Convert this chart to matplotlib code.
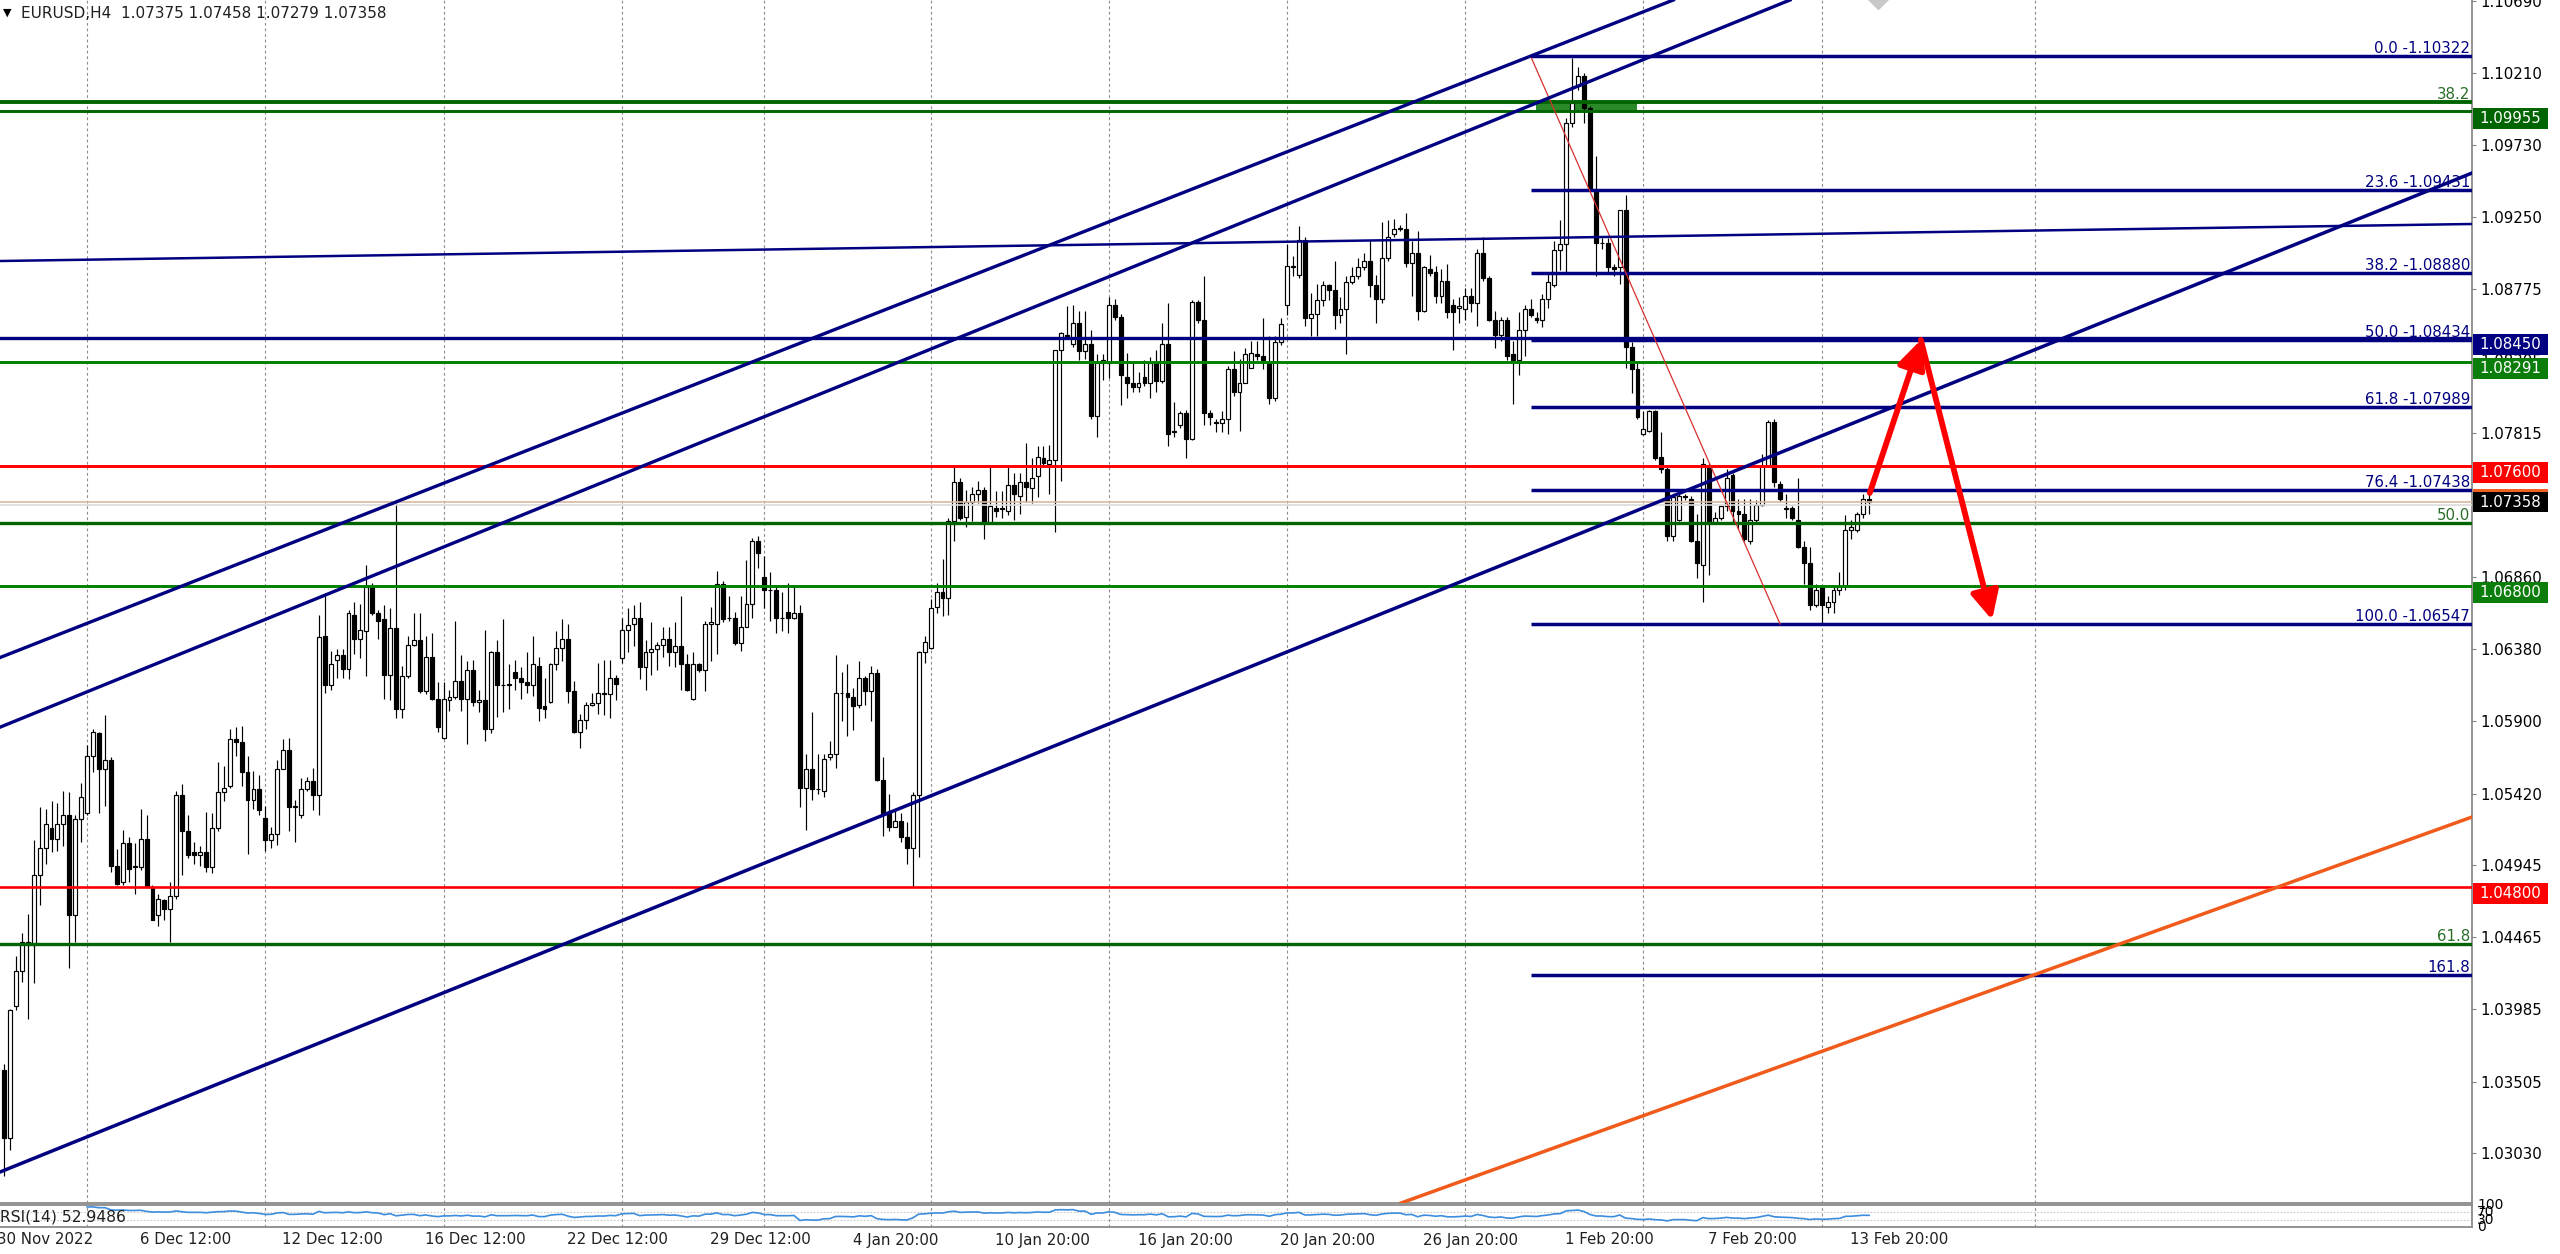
import numpy as np
import pandas as pd
import matplotlib
matplotlib.use('Agg')
import matplotlib.pyplot as plt
from matplotlib.patches import Rectangle, FancyArrowPatch
from matplotlib.transforms import blended_transform_factory

plt.rcParams['font.family'] = ['DejaVu Sans']

# EURUSD H4 bars
opens = [
    1.0358, 1.0313, 1.0401, 1.0424, 1.0443, 1.0441, 1.0488, 1.0506, 1.0519, 1.0512,
    1.0522, 1.0528, 1.0461, 1.0525, 1.0529, 1.0567, 1.0582, 1.0558, 1.0564, 1.0494,
    1.0483, 1.0509, 1.0493, 1.0493, 1.0512, 1.0480, 1.0461, 1.0471, 1.0465, 1.0474,
    1.0541, 1.0517, 1.0503, 1.0501, 1.0503, 1.0493, 1.0519, 1.0543, 1.0547, 1.0578,
    1.0576, 1.0556, 1.0538, 1.0545, 1.0526, 1.0511, 1.0515, 1.0558, 1.0571, 1.0533,
    1.0528, 1.0545, 1.0550, 1.0541, 1.0647, 1.0614, 1.0631, 1.0634, 1.0625, 1.0661,
    1.0645, 1.0650, 1.0680, 1.0662, 1.0658, 1.0621, 1.0652, 1.0598, 1.0620, 1.0641,
    1.0644, 1.0610, 1.0633, 1.0605, 1.0579, 1.0604, 1.0606, 1.0617, 1.0605, 1.0624,
    1.0603, 1.0604, 1.0585, 1.0636, 1.0614, 1.0614, 1.0623, 1.0619, 1.0616, 1.0614,
    1.0627, 1.0600, 1.0603, 1.0628, 1.0639, 1.0645, 1.0610, 1.0583, 1.0591, 1.0601,
    1.0602, 1.0609, 1.0608, 1.0619, 1.0632, 1.0651, 1.0655, 1.0659, 1.0626, 1.0636,
    1.0638, 1.0641, 1.0645, 1.0636, 1.0640, 1.0628, 1.0605, 1.0628, 1.0624, 1.0655,
    1.0655, 1.0681, 1.0659, 1.0659, 1.0642, 1.0653, 1.0668, 1.0710, 1.0686, 1.0677,
    1.0677, 1.0659, 1.0663, 1.0659, 1.0662, 1.0546, 1.0558, 1.0545, 1.0544, 1.0566,
    1.0568, 1.0609, 1.0609, 1.0606, 1.0601, 1.0619, 1.0610, 1.0622, 1.0551, 1.0529,
    1.0520, 1.0524, 1.0513, 1.0506, 1.0541, 1.0636, 1.0639, 1.0666, 1.0676, 1.0672,
    1.0723, 1.0749, 1.0726, 1.0736, 1.0741, 1.0744, 1.0722, 1.0732, 1.0732, 1.0730,
    1.0747, 1.0740, 1.0749, 1.0745, 1.0753, 1.0765, 1.0761, 1.0764, 1.0837, 1.0847,
    1.0841, 1.0855, 1.0836, 1.0841, 1.0793, 1.0828, 1.0828, 1.0867, 1.0859, 1.0819,
    1.0815, 1.0812, 1.0819, 1.0815, 1.0828, 1.0816, 1.0841, 1.0782, 1.0787, 1.0795,
    1.0778, 1.0869, 1.0857, 1.0795, 1.0789, 1.0788, 1.0791, 1.0824, 1.0809, 1.0815,
    1.0825, 1.0834, 1.0833, 1.0829, 1.0805, 1.0842, 1.0867, 1.0893, 1.0887, 1.0910,
    1.0858, 1.0861, 1.0870, 1.0880, 1.0877, 1.0860, 1.0864, 1.0882, 1.0886, 1.0892,
    1.0896, 1.0880, 1.0871, 1.0898, 1.0914, 1.0917, 1.0917, 1.0895, 1.0901, 1.0863,
    1.0891, 1.0889, 1.0873, 1.0883, 1.0867, 1.0865, 1.0864, 1.0873, 1.0868, 1.0901,
    1.0885, 1.0857, 1.0847, 1.0857, 1.0834, 1.0830, 1.0850, 1.0864, 1.0858, 1.0857,
    1.0871, 1.0880, 1.0903, 1.0907, 1.0988, 1.1012, 1.1019, 1.0998, 1.0943, 1.0908,
    1.0908, 1.0892, 1.0892, 1.0930, 1.0839, 1.0824, 1.0781, 1.0783, 1.0796, 1.0766,
    1.0758, 1.0713, 1.0724, 1.0740, 1.0738, 1.0710, 1.0694, 1.0759, 1.0722, 1.0725,
    1.0733, 1.0754, 1.0730, 1.0728, 1.0710, 1.0724, 1.0734, 1.0760, 1.0789, 1.0748,
    1.0731, 1.0732, 1.0724, 1.0706, 1.0695, 1.0667, 1.0679, 1.0666, 1.0669, 1.0677,
    1.0680, 1.0717, 1.0717, 1.0728, 1.07375,
]
highs = [
    1.0362, 1.0399, 1.0434, 1.0449, 1.0462, 1.0511, 1.0533, 1.0532, 1.0537, 1.0536,
    1.0544, 1.0543, 1.0528, 1.0549, 1.0574, 1.0585, 1.0583, 1.0594, 1.0566, 1.0505,
    1.0518, 1.0513, 1.0509, 1.0532, 1.0528, 1.0481, 1.0475, 1.0472, 1.0483, 1.0544,
    1.0548, 1.0528, 1.0510, 1.0507, 1.0530, 1.0529, 1.0563, 1.0560, 1.0585, 1.0586,
    1.0587, 1.0567, 1.0557, 1.0554, 1.0534, 1.0520, 1.0564, 1.0578, 1.0579, 1.0538,
    1.0552, 1.0553, 1.0559, 1.0661, 1.0673, 1.0637, 1.0638, 1.0638, 1.0664, 1.0669,
    1.0668, 1.0694, 1.0682, 1.0664, 1.0667, 1.0665, 1.0735, 1.0627, 1.0647, 1.0662,
    1.0662, 1.0647, 1.0649, 1.0616, 1.0616, 1.0611, 1.0657, 1.0634, 1.0630, 1.0631,
    1.0611, 1.0651, 1.0637, 1.0644, 1.0658, 1.0628, 1.0631, 1.0626, 1.0636, 1.0647,
    1.0633, 1.0619, 1.0629, 1.0650, 1.0658, 1.0655, 1.0617, 1.0595, 1.0603, 1.0609,
    1.0629, 1.0631, 1.0631, 1.0621, 1.0659, 1.0665, 1.0667, 1.0669, 1.0644, 1.0656,
    1.0643, 1.0653, 1.0653, 1.0656, 1.0673, 1.0635, 1.0636, 1.0629, 1.0657, 1.0666,
    1.0690, 1.0683, 1.0673, 1.0663, 1.0673, 1.0697, 1.0712, 1.0713, 1.0700, 1.0689,
    1.0680, 1.0676, 1.0682, 1.0680, 1.0667, 1.0568, 1.0596, 1.0568, 1.0568, 1.0577,
    1.0634, 1.0623, 1.0628, 1.0612, 1.0630, 1.0620, 1.0627, 1.0625, 1.0566, 1.0542,
    1.0531, 1.0529, 1.0523, 1.0543, 1.0637, 1.0647, 1.0671, 1.0682, 1.0698, 1.0725,
    1.0759, 1.0752, 1.0744, 1.0746, 1.0750, 1.0746, 1.0759, 1.0743, 1.0743, 1.0760,
    1.0755, 1.0755, 1.0775, 1.0765, 1.0773, 1.0773, 1.0774, 1.0837, 1.0849, 1.0866,
    1.0867, 1.0863, 1.0863, 1.0850, 1.0834, 1.0834, 1.0872, 1.0871, 1.0861, 1.0835,
    1.0828, 1.0822, 1.0830, 1.0832, 1.0837, 1.0855, 1.0868, 1.0802, 1.0796, 1.0797,
    1.0870, 1.0870, 1.0886, 1.0797, 1.0791, 1.0796, 1.0826, 1.0836, 1.0831, 1.0838,
    1.0843, 1.0843, 1.0858, 1.0846, 1.0846, 1.0858, 1.0907, 1.0899, 1.0919, 1.0912,
    1.0875, 1.0881, 1.0883, 1.0881, 1.0896, 1.0872, 1.0886, 1.0892, 1.0898, 1.0901,
    1.0910, 1.0887, 1.0922, 1.0923, 1.0924, 1.0920, 1.0928, 1.0909, 1.0916, 1.0893,
    1.0900, 1.0893, 1.0891, 1.0894, 1.0871, 1.0872, 1.0878, 1.0878, 1.0904, 1.0912,
    1.0886, 1.0863, 1.0859, 1.0859, 1.0843, 1.0862, 1.0867, 1.0871, 1.0862, 1.0874,
    1.0888, 1.0909, 1.0923, 1.0991, 1.1031, 1.1025, 1.1021, 1.0999, 1.0966, 1.0911,
    1.0911, 1.0894, 1.0930, 1.0940, 1.0842, 1.0829, 1.0796, 1.0797, 1.0797, 1.0782,
    1.0759, 1.0740, 1.0741, 1.0741, 1.0740, 1.0728, 1.0765, 1.0762, 1.0729, 1.0734,
    1.0758, 1.0755, 1.0738, 1.0738, 1.0738, 1.0737, 1.0768, 1.0790, 1.0791, 1.0750,
    1.0741, 1.0733, 1.0752, 1.0710, 1.0706, 1.0681, 1.0680, 1.0673, 1.0680, 1.0689,
    1.0727, 1.0724, 1.0729, 1.0741, 1.07458,
]
lows = [
    1.0288, 1.0305, 1.0398, 1.0417, 1.0392, 1.0416, 1.0468, 1.0495, 1.0503, 1.0504,
    1.0507, 1.0426, 1.0443, 1.0510, 1.0528, 1.0556, 1.0529, 1.0534, 1.0490, 1.0481,
    1.0481, 1.0483, 1.0475, 1.0491, 1.0480, 1.0458, 1.0454, 1.0458, 1.0443, 1.0472,
    1.0488, 1.0499, 1.0495, 1.0494, 1.0490, 1.0489, 1.0517, 1.0537, 1.0546, 1.0567,
    1.0547, 1.0502, 1.0532, 1.0528, 1.0504, 1.0506, 1.0508, 1.0558, 1.0517, 1.0510,
    1.0526, 1.0544, 1.0531, 1.0528, 1.0609, 1.0611, 1.0619, 1.0619, 1.0618, 1.0635,
    1.0632, 1.0620, 1.0661, 1.0645, 1.0605, 1.0604, 1.0592, 1.0592, 1.0619, 1.0640,
    1.0609, 1.0608, 1.0604, 1.0583, 1.0578, 1.0597, 1.0605, 1.0597, 1.0575, 1.0600,
    1.0596, 1.0577, 1.0582, 1.0593, 1.0596, 1.0598, 1.0611, 1.0605, 1.0609, 1.0607,
    1.0590, 1.0592, 1.0602, 1.0624, 1.0630, 1.0602, 1.0582, 1.0572, 1.0585, 1.0600,
    1.0595, 1.0594, 1.0592, 1.0604, 1.0629, 1.0636, 1.0640, 1.0618, 1.0611, 1.0621,
    1.0624, 1.0633, 1.0627, 1.0626, 1.0611, 1.0610, 1.0604, 1.0623, 1.0610, 1.0630,
    1.0635, 1.0656, 1.0657, 1.0641, 1.0637, 1.0653, 1.0659, 1.0692, 1.0665, 1.0657,
    1.0649, 1.0650, 1.0649, 1.0658, 1.0533, 1.0518, 1.0538, 1.0542, 1.0540, 1.0564,
    1.0559, 1.0590, 1.0580, 1.0584, 1.0599, 1.0601, 1.0590, 1.0550, 1.0514, 1.0517,
    1.0520, 1.0510, 1.0495, 1.0480, 1.0500, 1.0629, 1.0638, 1.0662, 1.0660, 1.0661,
    1.0710, 1.0724, 1.0719, 1.0723, 1.0735, 1.0711, 1.0722, 1.0726, 1.0725, 1.0727,
    1.0724, 1.0728, 1.0736, 1.0735, 1.0739, 1.0760, 1.0741, 1.0716, 1.0750, 1.0845,
    1.0839, 1.0830, 1.0831, 1.0791, 1.0779, 1.0817, 1.0818, 1.0857, 1.0800, 1.0805,
    1.0809, 1.0809, 1.0813, 1.0805, 1.0809, 1.0815, 1.0773, 1.0779, 1.0785, 1.0765,
    1.0777, 1.0855, 1.0787, 1.0787, 1.0782, 1.0782, 1.0781, 1.0806, 1.0783, 1.0815,
    1.0825, 1.0830, 1.0824, 1.0801, 1.0803, 1.0840, 1.0860, 1.0886, 1.0885, 1.0853,
    1.0846, 1.0846, 1.0866, 1.0870, 1.0851, 1.0855, 1.0834, 1.0881, 1.0884, 1.0890,
    1.0872, 1.0855, 1.0868, 1.0896, 1.0912, 1.0916, 1.0892, 1.0873, 1.0857, 1.0862,
    1.0886, 1.0868, 1.0868, 1.0858, 1.0837, 1.0855, 1.0857, 1.0862, 1.0853, 1.0883,
    1.0856, 1.0838, 1.0843, 1.0830, 1.0801, 1.0820, 1.0833, 1.0859, 1.0855, 1.0852,
    1.0865, 1.0879, 1.0890, 1.0888, 1.0985, 1.1010, 1.0988, 1.0943, 1.0886, 1.0904,
    1.0889, 1.0886, 1.0881, 1.0825, 1.0808, 1.0791, 1.0780, 1.0782, 1.0764, 1.0755,
    1.0710, 1.0710, 1.0723, 1.0737, 1.0709, 1.0685, 1.0669, 1.0687, 1.0721, 1.0724,
    1.0730, 1.0722, 1.0718, 1.0710, 1.0708, 1.0722, 1.0733, 1.0759, 1.0746, 1.0736,
    1.0725, 1.0724, 1.0705, 1.0681, 1.0664, 1.0666, 1.0655, 1.0662, 1.0662, 1.0674,
    1.0677, 1.0711, 1.0716, 1.0725, 1.07279,
]
closes = [
    1.0313, 1.0398, 1.0424, 1.0443, 1.0441, 1.0488, 1.0506, 1.0522, 1.0512, 1.0522,
    1.0528, 1.0461, 1.0525, 1.0540, 1.0567, 1.0583, 1.0558, 1.0564, 1.0494, 1.0482,
    1.0509, 1.0492, 1.0494, 1.0512, 1.0480, 1.0458, 1.0472, 1.0465, 1.0474, 1.0541,
    1.0517, 1.0501, 1.0501, 1.0503, 1.0493, 1.0519, 1.0543, 1.0546, 1.0578, 1.0576,
    1.0556, 1.0538, 1.0545, 1.0531, 1.0511, 1.0515, 1.0558, 1.0571, 1.0533, 1.0534,
    1.0545, 1.0550, 1.0541, 1.0646, 1.0614, 1.0628, 1.0634, 1.0625, 1.0662, 1.0645,
    1.0651, 1.0679, 1.0662, 1.0657, 1.0621, 1.0652, 1.0598, 1.0620, 1.0641, 1.0644,
    1.0610, 1.0633, 1.0605, 1.0586, 1.0605, 1.0606, 1.0617, 1.0605, 1.0624, 1.0603,
    1.0604, 1.0585, 1.0636, 1.0614, 1.0614, 1.0615, 1.0619, 1.0616, 1.0614, 1.0628,
    1.0599, 1.0598, 1.0628, 1.0639, 1.0645, 1.0610, 1.0583, 1.0591, 1.0601, 1.0602,
    1.0609, 1.0608, 1.0619, 1.0615, 1.0651, 1.0654, 1.0659, 1.0626, 1.0636, 1.0638,
    1.0641, 1.0645, 1.0636, 1.0640, 1.0628, 1.0611, 1.0628, 1.0624, 1.0655, 1.0656,
    1.0681, 1.0658, 1.0659, 1.0642, 1.0653, 1.0668, 1.0710, 1.0702, 1.0677, 1.0677,
    1.0659, 1.0659, 1.0659, 1.0662, 1.0546, 1.0558, 1.0545, 1.0545, 1.0565, 1.0568,
    1.0609, 1.0609, 1.0606, 1.0600, 1.0619, 1.0610, 1.0622, 1.0551, 1.0529, 1.0520,
    1.0524, 1.0513, 1.0506, 1.0541, 1.0636, 1.0643, 1.0665, 1.0676, 1.0672, 1.0723,
    1.0749, 1.0725, 1.0736, 1.0741, 1.0744, 1.0722, 1.0733, 1.0730, 1.0731, 1.0747,
    1.0741, 1.0749, 1.0746, 1.0752, 1.0766, 1.0762, 1.0764, 1.0837, 1.0848, 1.0846,
    1.0855, 1.0836, 1.0841, 1.0793, 1.0828, 1.0830, 1.0867, 1.0859, 1.0820, 1.0815,
    1.0812, 1.0815, 1.0815, 1.0828, 1.0816, 1.0841, 1.0781, 1.0783, 1.0795, 1.0778,
    1.0869, 1.0857, 1.0795, 1.0792, 1.0788, 1.0791, 1.0824, 1.0809, 1.0815, 1.0834,
    1.0835, 1.0833, 1.0830, 1.0805, 1.0842, 1.0854, 1.0893, 1.0892, 1.0910, 1.0858,
    1.0861, 1.0870, 1.0880, 1.0877, 1.0860, 1.0864, 1.0882, 1.0886, 1.0892, 1.0896,
    1.0880, 1.0871, 1.0898, 1.0912, 1.0917, 1.0918, 1.0895, 1.0901, 1.0863, 1.0892,
    1.0888, 1.0873, 1.0883, 1.0862, 1.0862, 1.0866, 1.0873, 1.0868, 1.0901, 1.0885,
    1.0857, 1.0847, 1.0857, 1.0833, 1.0830, 1.0850, 1.0864, 1.0860, 1.0857, 1.0871,
    1.0882, 1.0903, 1.0907, 1.0988, 1.1001, 1.1019, 1.0998, 1.0944, 1.0908, 1.0908,
    1.0892, 1.0891, 1.0930, 1.0839, 1.0824, 1.0792, 1.0784, 1.0796, 1.0765, 1.0758,
    1.0713, 1.0739, 1.0740, 1.0739, 1.0710, 1.0695, 1.0761, 1.0722, 1.0725, 1.0733,
    1.0752, 1.0730, 1.0728, 1.0711, 1.0724, 1.0734, 1.0760, 1.0789, 1.0749, 1.0738,
    1.0732, 1.0725, 1.0706, 1.0695, 1.0667, 1.0677, 1.0667, 1.0669, 1.0677, 1.0680,
    1.0717, 1.0719, 1.0728, 1.0738, 1.07358,
]

# axis
price_ticks = [1.10690, 1.10210, 1.09730, 1.09250, 1.08775, 1.08305, 1.07815, 1.07340,
               1.06860, 1.06380, 1.05900, 1.05420, 1.04945, 1.04465, 1.03985, 1.03505, 1.03030]
date_labels = ['30 Nov 2022', '6 Dec 12:00', '12 Dec 12:00', '16 Dec 12:00', '22 Dec 12:00',
               '29 Dec 12:00', '4 Jan 20:00', '10 Jan 20:00', '16 Jan 20:00', '20 Jan 20:00',
               '26 Jan 20:00', '1 Feb 20:00', '7 Feb 20:00', '13 Feb 20:00']
date_bars = [-2, 22, 46, 70, 94, 118, 142, 166, 190, 214, 238, 262, 286, 310]
week_grid_bars = [14, 44, 74, 104, 128, 156, 186, 216, 246, 276, 306, 342]

# horizontal levels drawn across the whole chart
level_prices = [1.10017, 1.09955, 1.08450, 1.08291, 1.07600, 1.07218, 1.06800, 1.04800, 1.04419]
level_colors = ['#006400', '#006400', '#000080', '#008000', '#ff0000', '#006400', '#008000', '#ff0000', '#006400']
level_widths = [2.8, 2.1, 2.4, 2.1, 2.1, 2.4, 2.1, 1.9, 2.4]

green_fib_labels = ['38.2', '50.0', '61.8']
green_fib_prices = [1.10017, 1.07218, 1.04419]

fib_labels = ['0.0 -1.10322', '23.6 -1.09431', '38.2 -1.08880', '50.0 -1.08434',
              '61.8 -1.07989', '76.4 -1.07438', '100.0 -1.06547', '161.8']
fib_prices = [1.10322, 1.09431, 1.08880, 1.08434, 1.07989, 1.07438, 1.06547, 1.04214]
fib_start_bar = 257
fib_diag = [(257, 1.10322), (299, 1.06547)]

# trend lines as two points (bar, price)
trend_lines = [
    [(-0.67, 1.06324), (257.0, 1.10322)],
    [(-0.67, 1.05861), (300.3, 1.10689)],
    [(-0.67, 1.02904), (415.5, 1.09545)],
    [(-0.67, 1.08960), (415.5, 1.09206)],
]
trend_widths = [2.4, 2.4, 2.5, 1.8]
orange_line = [(235.2, 1.02698), (415.5, 1.05264)]

zone_bars = (257.9, 274.9)
zone_prices = (1.09955, 1.10017)

arrow_points = [(314.1, 1.07418), (322.7, 1.08435), (334.7, 1.06574)]

box_prices = [1.09955, 1.08450, 1.08291, 1.07600, 1.06800, 1.04800]
box_colors = ['#006400', '#000080', '#0b7d0b', '#ff0000', '#0b7d0b', '#ff0000']
bid = 1.07358

NAVY = '#000080'
W, H = 2560, 1254
XMIN, XMAX = -0.673, 415.49
YMIN, YMAX = 1.02698, 1.10695
FS = 10.8

fig = plt.figure(figsize=(W / 100, H / 100), dpi=100)
ax = fig.add_axes([0, 51 / H, 2472 / W, 1203 / H])
rax = fig.add_axes([0, 27 / H, 2472 / W, 22 / H])

x = np.arange(len(closes))
o = np.array(opens)
h = np.array(highs)
l = np.array(lows)
c = np.array(closes)
up = c >= o

for gb in week_grid_bars:
    ax.axvline(gb, color='#8c8c8c', lw=0.8, ls=(0, (2.5, 2.5)), zorder=1)
    rax.axvline(gb, color='#8c8c8c', lw=0.8, ls=(0, (2.5, 2.5)), zorder=1)

ax.add_patch(Rectangle((zone_bars[0], zone_prices[0]), zone_bars[1] - zone_bars[0],
                       zone_prices[1] - zone_prices[0], facecolor='#2a8a2a', edgecolor='none', zorder=1.5))

# candles
ax.vlines(x, l, h, color='black', lw=0.85, zorder=2)
ax.bar(x[up], c[up] - o[up], bottom=o[up], width=0.66, color='white',
       edgecolor='black', linewidth=0.85, zorder=3)
ax.bar(x[~up], o[~up] - c[~up], bottom=c[~up], width=0.66, color='black',
       edgecolor='black', linewidth=0.85, zorder=3)

# bid line
ax.axhline(bid - 0.0002, color='#dcdcdc', lw=1.2, zorder=4)
ax.axhline(bid, color='#d8b9a0', lw=1.2, zorder=4)

for p, col, w in zip(level_prices, level_colors, level_widths):
    ax.axhline(p, color=col, lw=w, zorder=5)

ax.hlines(fib_prices, fib_start_bar, XMAX, color=NAVY, lw=2.5, zorder=5)
ax.plot([fib_diag[0][0], fib_diag[1][0]], [fib_diag[0][1], fib_diag[1][1]],
        color='#d83030', lw=0.9, zorder=5)

for (p1, p2), w in zip(trend_lines, trend_widths):
    ax.axline(p1, p2, color=NAVY, lw=w, zorder=5)
ax.axline(orange_line[0], orange_line[1], color='#f05a1a', lw=2.5, zorder=5)

for lab, p in zip(fib_labels, fib_prices):
    ax.text(XMAX - 0.3, p, lab, ha='right', va='bottom', color=NAVY, fontsize=FS, zorder=6)
for lab, p in zip(green_fib_labels, green_fib_prices):
    ax.text(XMAX - 0.3, p, lab, ha='right', va='bottom', color='#2a6e2a', fontsize=FS, zorder=6)

# forecast arrows
for a, b in zip(arrow_points[:-1], arrow_points[1:]):
    ax.add_patch(FancyArrowPatch(a, b, arrowstyle='-|>,head_length=0.85,head_width=0.42',
                                 mutation_scale=20, color='#ff0000', lw=4.2,
                                 shrinkA=0, shrinkB=0, zorder=8))

ax.plot([315.5], [1.1071], marker='D', ms=11, color='#c8c8c8', zorder=5)

ax.set_xlim(XMIN, XMAX)
ax.set_ylim(YMIN, YMAX)
ax.set_xticks([])
ax.yaxis.tick_right()
ax.set_yticks(price_ticks)
ax.set_yticklabels([f'{t:.5f}' for t in price_ticks])
ax.tick_params(axis='y', length=3, width=0.8, color='#808080', pad=3, labelsize=FS)
for s in ['left', 'top']:
    ax.spines[s].set_visible(False)
for s in ['right', 'bottom']:
    ax.spines[s].set_color('#8a8a8a')
    ax.spines[s].set_linewidth(1.3)

# price labels on the scale
px = (YMAX - YMIN) / 1203
trans = blended_transform_factory(fig.transFigure, ax.transData)
for p, col in zip(box_prices, box_colors):
    top = p + 3.5 * px
    ax.add_patch(Rectangle((2473 / W, top - 21 * px), 75 / W, 21 * px, transform=trans,
                           facecolor=col, edgecolor='none', clip_on=False, zorder=10))
    ax.text(2510.5 / W, top - 10.5 * px, f'{p:.5f}', transform=trans, color='white',
            ha='center', va='center', fontsize=FS, zorder=11, clip_on=False)
top = bid + 9.5 * px
ax.add_patch(Rectangle((2473 / W, top + 0.5 * px), 75 / W, 3 * px, transform=trans,
                       facecolor='#f06020', edgecolor='none', clip_on=False, zorder=10))
ax.add_patch(Rectangle((2473 / W, top - 20 * px), 75 / W, 20 * px, transform=trans,
                       facecolor='black', edgecolor='none', clip_on=False, zorder=10))
ax.text(2510.5 / W, top - 10 * px, f'{bid:.5f}', transform=trans, color='white',
        ha='center', va='center', fontsize=FS, zorder=11, clip_on=False)

# header
fig.text(3 / W, 1 - 13 / H, '\u25bc', fontsize=8, va='center', ha='left')
fig.text(21 / W, 1 - 14 / H, 'EURUSD,H4  1.07375 1.07458 1.07279 1.07358',
         fontsize=11, va='center', ha='left', color='#202020')

# RSI(14)
cs = pd.Series(closes)
d = cs.diff()
gain = d.clip(lower=0).ewm(alpha=1 / 14, adjust=False, min_periods=14).mean()
loss = (-d.clip(upper=0)).ewm(alpha=1 / 14, adjust=False, min_periods=14).mean()
rsi = 100 - 100 / (1 + gain / loss)
rax.plot(x, rsi, color='#3c8dde', lw=1.2, zorder=3)
for lv in [70, 30]:
    rax.axhline(lv, color='#c8c8c8', lw=0.8, ls=(0, (1.5, 1.5)), zorder=2)
rax.set_xlim(XMIN, XMAX)
rax.set_ylim(0, 100)
rax.set_xticks([])
rax.set_yticks([])
rax.spines['left'].set_visible(False)
for s in ['right', 'top', 'bottom']:
    rax.spines[s].set_color('#8a8a8a')
    rax.spines[s].set_linewidth(1.3)
rax.text(0.0, 0.45, 'RSI(14) 52.9486', transform=rax.transAxes, ha='left', va='center',
         fontsize=11.2, color='#202020', zorder=5)
for lv in [100, 70, 30, 0]:
    rax.text(1.002, lv, str(lv), transform=blended_transform_factory(rax.transAxes, rax.transData),
             ha='left', va='center', fontsize=10, clip_on=False)

dtrans = blended_transform_factory(rax.transData, fig.transFigure)
for lab, b in zip(date_labels, date_bars):
    rax.text(b + 0.85, 14 / H, lab, transform=dtrans, ha='left', va='center',
             fontsize=FS, clip_on=False, color='#202020')

fig.savefig('out.png', dpi=100, facecolor='white')
